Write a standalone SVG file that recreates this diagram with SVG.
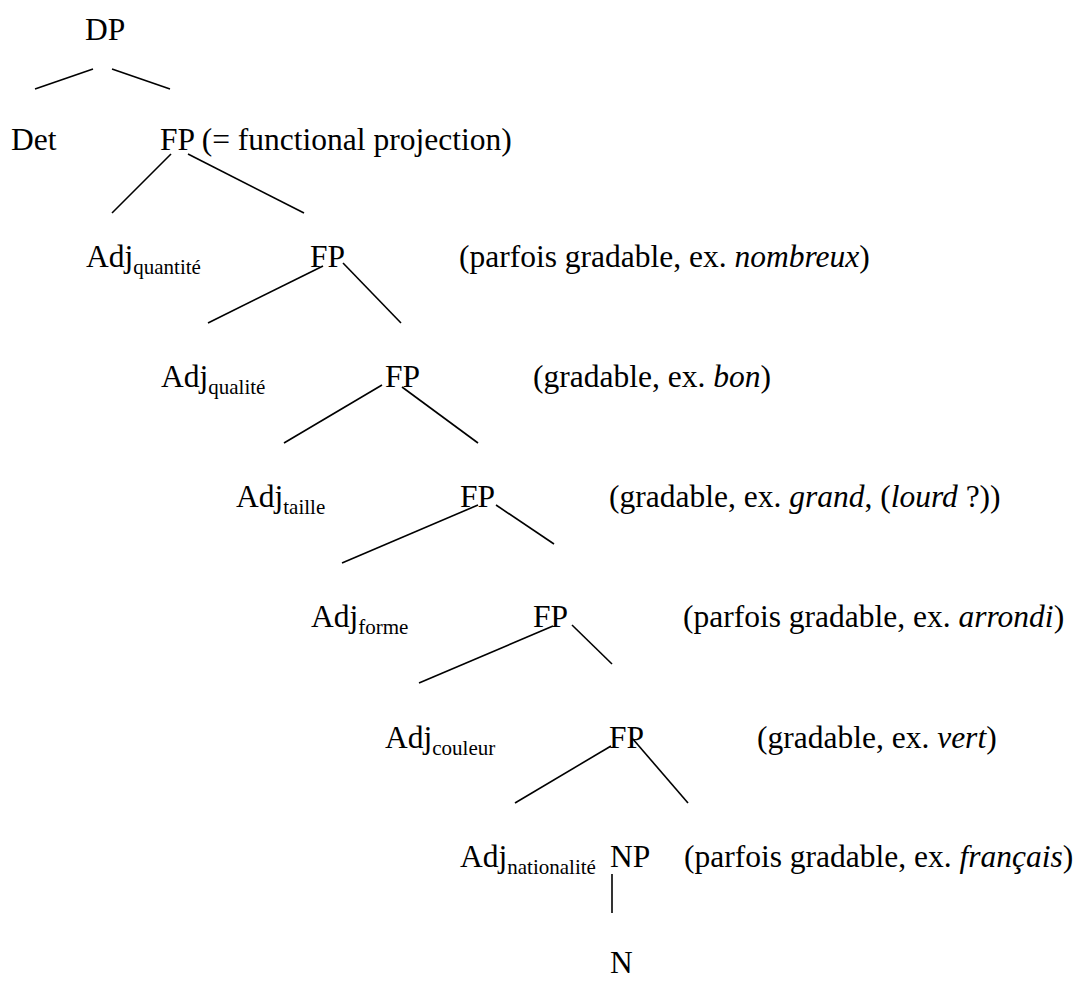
<svg xmlns="http://www.w3.org/2000/svg" width="1082" height="981" viewBox="0 0 1082 981" font-family="'Liberation Serif', 'Times New Roman', Times, serif">
<style>
text{font-family:'Liberation Serif','Times New Roman',Times,serif;font-size:31.5px;fill:#000}
.sub{font-size:21px}
.it{font-style:italic}
.e{stroke:#000;stroke-width:1.6;fill:none}
</style>
<rect width="1082" height="981" fill="#fff"/>
<g id="connectors" class="e">
<line x1="35" y1="89" x2="93" y2="69"/>
<line x1="112" y1="69" x2="170" y2="89"/>
<line x1="171" y1="154" x2="112" y2="213"/>
<line x1="188" y1="154" x2="304" y2="213"/>
<line x1="323" y1="266" x2="208" y2="323"/>
<line x1="343" y1="263" x2="401" y2="323"/>
<line x1="382" y1="385" x2="284" y2="443"/>
<line x1="402" y1="387" x2="478" y2="443"/>
<line x1="478" y1="505" x2="342" y2="563"/>
<line x1="496" y1="505" x2="554" y2="544"/>
<line x1="553" y1="626" x2="419" y2="683"/>
<line x1="572" y1="625" x2="612" y2="664"/>
<line x1="611" y1="746" x2="515" y2="803"/>
<line x1="632" y1="738" x2="688" y2="803"/>
<line x1="612" y1="874" x2="612" y2="913"/>
</g>
<g id="n-DP"><text x="85" y="40">DP</text></g>
<g id="n-Det"><text x="11" y="150">Det</text></g>
<g id="n-FP1"><text x="160" y="150">FP (= functional projection)</text></g>
<g id="n-AdjQuantite"><text x="86" y="267">Adj<tspan class="sub" dy="7">quantité</tspan></text></g>
<g id="n-FP2"><text x="310" y="267">FP</text></g>
<g id="c-FP2"><text x="459" y="267">(parfois gradable, ex. <tspan class="it">nombreux</tspan>)</text></g>
<g id="n-AdjQualite"><text x="161" y="387">Adj<tspan class="sub" dy="7">qualité</tspan></text></g>
<g id="n-FP3"><text x="385" y="387">FP</text></g>
<g id="c-FP3"><text x="533" y="387">(gradable, ex. <tspan class="it">bon</tspan>)</text></g>
<g id="n-AdjTaille"><text x="236" y="507">Adj<tspan class="sub" dy="7">taille</tspan></text></g>
<g id="n-FP4"><text x="460" y="507">FP</text></g>
<g id="c-FP4"><text x="609" y="507">(gradable, ex. <tspan class="it">grand</tspan>, (<tspan class="it">lourd</tspan> ?))</text></g>
<g id="n-AdjForme"><text x="311" y="627">Adj<tspan class="sub" dy="7">forme</tspan></text></g>
<g id="n-FP5"><text x="533" y="627">FP</text></g>
<g id="c-FP5"><text x="683" y="627">(parfois gradable, ex. <tspan class="it">arrondi</tspan>)</text></g>
<g id="n-AdjCouleur"><text x="385" y="748">Adj<tspan class="sub" dy="7">couleur</tspan></text></g>
<g id="n-FP6"><text x="609" y="748">FP</text></g>
<g id="c-FP6"><text x="757" y="748">(gradable, ex. <tspan class="it">vert</tspan>)</text></g>
<g id="n-AdjNationalite"><text x="460" y="867">Adj<tspan class="sub" dy="7">nationalité</tspan></text></g>
<g id="n-NP"><text x="610" y="867">NP</text></g>
<g id="c-NP"><text x="684" y="867">(parfois gradable, ex. <tspan class="it">français</tspan>)</text></g>
<g id="n-N"><text x="610" y="973">N</text></g>
</svg>
